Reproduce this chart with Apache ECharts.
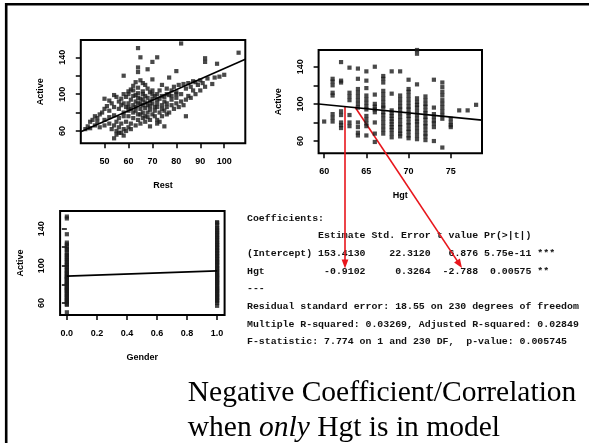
<!DOCTYPE html>
<html><head><meta charset="utf-8">
<script src="https://cdn.jsdelivr.net/npm/echarts@6/dist/echarts.min.js"></script>
<style>html,body{margin:0;padding:0;background:#fff}#c{width:589px;height:443px}</style>
</head><body><div id="c"></div>
<script>
// ---- data ----
const restActive = [
[64,150],[82,155],[106,145],[65,140],[92,139],[92,135],[97,133],[72,140],[70,135],[68,127],[64,129],[64,124],[58,120],[80,125],[77,118],[70,116],[95,111],[88,113],[84,76],[69,65],[75,65],[72,68],[54,52],[43,65],[47,74],[51,87],
[100,121],[98,119],[96,118],[93,117],[90,115],[87,114],[85,112],[83,111],[86,108],[84,106],[81,110],[79,108],[78,104],[80,102],[82,100],[76,106],[77,99],[75,97],[74,110],[73,104],[72,100],[70,104],[71,98],[69,102],[68,106],[67,110],[66,112],[65,115],[63,113],[62,109],[61,105],[60,103],[66,103],[64,101],[67,98],[70,95],[73,95],[75,92],[78,94],[80,96],[76,90],[74,88],[72,90],[71,86],[69,92],[68,88],[66,94],[65,90],[64,96],[63,92],[62,98],[61,94],[60,90],[59,97],[58,100],[57,95],[56,92],[55,97],[54,99],[53,90],[52,93],[50,95],[57,88],[59,86],[61,84],[63,86],[65,84],[67,85],[69,83],[71,82],[73,80],[70,78],[68,80],[66,80],[64,78],[62,80],[60,82],[58,80],[56,84],[54,86],[52,82],[50,84],[49,80],[48,78],[46,76],[45,72],[44,70],[47,70],[50,72],[52,75],[54,77],[56,74],[58,76],[60,76],[62,74],[64,72],[66,74],[68,75],[55,70],[57,68],[59,70],[61,68],[63,66],[65,68],[67,70],[56,64],[58,62],[60,64],[54,66],[52,68],[53,62],[55,60],[57,58],[59,60],[61,62],[55,56],[56,58],[58,55],[42,62],[44,63],[46,66],[48,64],[50,66],[74,84],[76,86],[78,88],[80,90],[82,92],[84,94],[86,96],[88,100],[90,104],[92,108],[79,84],[77,80],[81,86],[83,88],[85,98],[87,104],[89,110],[91,112],[72,72],[74,76],[76,78],[66,88],[64,90],[62,88],[60,86],[58,90],[70,90],[72,94],[74,98],[76,100],[78,98],[80,100],[63,82],[65,78],[67,76],[69,72],[71,76],[73,70],[62,104],[60,100],[64,107],[66,100],[68,96],[70,100],[72,86],[75,82],[69,87],[67,91],[65,95],[63,99]
];
const restFit = [[40.1,59.2],[108.8,137.8]];

const hgtHeights = [60,61,62,63,64,65,66,67,68,69,70,71,72,73,74,75,76,77,78];
const hgtActiveByHeight = [
[81],
[127,124,120,112,109,89,85,81],
[145,125,123,92,88,80,77,74],
[139,112,108,104,88,80,76],
[138,127,116,112,108,104,100,96,80,75,69,66],
[135,125,117,109,105,101,97,94,87,83,79,76,66],
[140,110,100,97,94,91,80,68,59],
[130,127,123,114,110,106,102,98,96,91,88,84,80,76,72,68],
[135,111,93,90,87,84,81,78,75,72,68,64],
[135,109,105,101,97,94,90,86,82,78,75,71,68,65],
[126,116,113,109,105,101,97,94,90,87,84,80,77,73,70,66,63],
[158,154,121,106,102,99,96,92,88,84,81,78,74,70,66,62],
[108,104,100,97,93,90,86,83,79,76,72,68,65,61],
[126,96,89,86,82,79,75,60],
[123,118,113,109,104,100,96,92,88,84,53],
[84,80,77,75],
[93],
[93],
[99]
];
const hgtFit = [[59.34,99.8],[78.7,82.5]];

const femaleActive = [153,151,134,125,123,121,118,117,114,112,111,109,107,106,104,102,101,99,98,96,95,93,92,91,89,88,87,86,85,83,82,81,80,79,77,76,75,74,73,71,70,69,67,66,65,63,62,61,59,58,50];
const maleActive = [147,146,144,141,140,138,136,135,133,131,130,128,126,125,123,122,120,119,117,116,114,113,111,110,108,107,105,104,103,101,100,98,97,96,94,93,92,90,89,88,87,85,84,83,82,80,79,78,76,75,74,73,71,70,69,67,66,65,63,62,60,57];
const genderFit = [[0,88.9],[1,94.6]];

const restTicks = [50,60,70,80,90,100];
const hgtTicks = [60,65,70,75];
const genderTicks = [0,0.2,0.4,0.6,0.8,1.0];
const activeTicks = [60,80,100,120,140];
const activeLabels = [60,100,140];

const coefLines = [
  'Coefficients:',
  '            Estimate Std. Error t value Pr(>|t|)',
  '(Intercept) 153.4130    22.3120   6.876 5.75e-11 ***',
  'Hgt          -0.9102     0.3264  -2.788  0.00575 **',
  '---',
  'Residual standard error: 18.55 on 230 degrees of freedom',
  'Multiple R-squared: 0.03269, Adjusted R-squared: 0.02849',
  'F-statistic: 7.774 on 1 and 230 DF,  p-value: 0.005745'
];
const titleLine1 = 'Negative Coefficient/Correlation';
const titleLine2 = 'when {i|only} Hgt is in model';

// ---- build ----
const hgtData = [];
hgtHeights.forEach((h, i) => hgtActiveByHeight[i].forEach(a => hgtData.push([h, a])));
const genderData = femaleActive.map(a => [0, a]).concat(maleActive.map(a => [1, a]));

const lab = {color:'#000', fontSize:9, fontWeight:'bold', fontFamily:'Liberation Sans'};
function xAx(gi, min, max, ticks, name, fmt) {
  return {gridIndex:gi, type:'value', min, max, name, nameLocation:'middle', nameGap:38,
    nameTextStyle:lab, axisLine:{show:false}, splitLine:{show:false},
    axisTick:{show:true, length:5, customValues:ticks, lineStyle:{color:'#000', width:1.5}},
    axisLabel:Object.assign({customValues:ticks, margin:14, formatter:fmt}, lab)};
}
function yAx(gi, min, max, gap) {
  return {gridIndex:gi, type:'value', min, max, name:'Active', nameLocation:'middle', nameGap:gap,
    nameTextStyle:lab, axisLine:{show:false}, splitLine:{show:false},
    axisTick:{show:true, length:5, customValues:activeTicks, lineStyle:{color:'#000', width:1.5}},
    axisLabel:Object.assign({customValues:activeLabels, margin:14, rotate:90}, lab)};
}
const gridBase = {show:true, borderColor:'#000', borderWidth:2, backgroundColor:'transparent', containLabel:false};
const pt = {symbol:'rect', symbolSize:4.2, itemStyle:{color:'#1c1c1c'}, silent:true};
const fitStyle = {symbol:'none', lineStyle:{color:'#000', width:1.6}, silent:true};

const graphics = [
  {type:'rect', shape:{x:6.2, y:4.3, width:700, height:600}, style:{fill:'none', stroke:'#000', lineWidth:2.6}, silent:true}
];
coefLines.forEach((t, i) => graphics.push({type:'text', x:247, y:218.3 + i*17.63,
  style:{text:t, fill:'#111', fontFamily:'Liberation Mono', fontSize:9.9, fontWeight:'bold', verticalAlign:'middle', align:'left'}, silent:true}));
graphics.push({type:'text', x:187.8, y:393, style:{text:titleLine1, fill:'#000', fontFamily:'Liberation Serif', fontSize:29.5, verticalAlign:'middle', align:'left'}, silent:true});
graphics.push({type:'text', x:187.8, y:428, style:{text:titleLine2, fill:'#000', fontFamily:'Liberation Serif', fontSize:29.5, verticalAlign:'middle', align:'left',
  rich:{i:{fontStyle:'italic', fontFamily:'Liberation Serif', fontSize:29.5, fill:'#000'}}}, silent:true});
// red arrows
const red = '#e8161c';
graphics.push({type:'line', shape:{x1:345, y1:107, x2:345, y2:262}, style:{stroke:red, lineWidth:1.6}, silent:true});
graphics.push({type:'polygon', shape:{points:[[345,268.5],[341.6,259.5],[348.4,259.5]]}, style:{fill:red}, silent:true});
graphics.push({type:'line', shape:{x1:355, y1:107, x2:458.6, y2:262.9}, style:{stroke:red, lineWidth:1.6}, silent:true});
graphics.push({type:'polygon', shape:{points:[[462,268],[459.9,258.6],[454.1,262.4]]}, style:{fill:red}, silent:true});

const chart = echarts.init(document.getElementById('c'), null, {renderer:'canvas'});
chart.setOption({
  animation:false,
  backgroundColor:'#fff',
  grid:[
    Object.assign({left:80.8, top:40, width:164.5, height:103.3}, gridBase),
    Object.assign({left:318.6, top:50, width:163.4, height:103.3}, gridBase),
    Object.assign({left:60.1, top:211, width:164.5, height:104}, gridBase)
  ],
  xAxis:[
    xAx(0, 40.1, 108.8, restTicks, 'Rest'),
    xAx(1, 59.34, 78.7, hgtTicks, 'Hgt'),
    xAx(2, -0.045, 1.05, genderTicks, 'Gender', v => v.toFixed(1))
  ],
  yAxis:[
    yAx(0, 46.6, 158.8, 36),
    yAx(1, 46.8, 158, 36),
    yAx(2, 47.1, 159, 35)
  ],
  series:[
    Object.assign({type:'scatter', xAxisIndex:0, yAxisIndex:0, data:restActive}, pt),
    Object.assign({type:'scatter', xAxisIndex:1, yAxisIndex:1, data:hgtData}, pt),
    Object.assign({type:'scatter', xAxisIndex:2, yAxisIndex:2, data:genderData}, pt),
    Object.assign({type:'line', xAxisIndex:0, yAxisIndex:0, data:restFit}, fitStyle),
    Object.assign({type:'line', xAxisIndex:1, yAxisIndex:1, data:hgtFit}, fitStyle),
    Object.assign({type:'line', xAxisIndex:2, yAxisIndex:2, data:genderFit}, fitStyle)
  ],
  graphic:graphics
});
</script>
</body></html>
